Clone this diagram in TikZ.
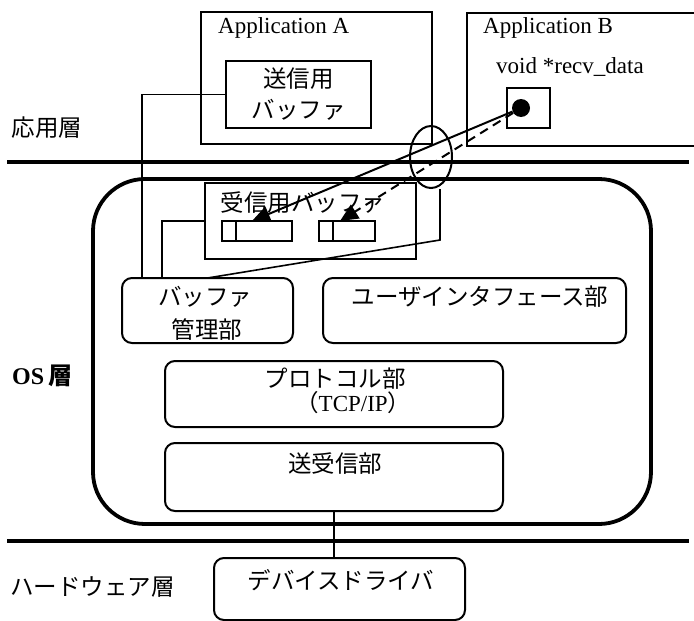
\documentclass[tikz,border=0pt]{standalone}
\usepackage{fontspec}
\setmainfont{Liberation Serif}
\newfontfamily\jp{Noto Sans CJK JP}
\usetikzlibrary{arrows.meta,calc,shapes.geometric}
\begin{document}
\begin{tikzpicture}[x=1pt,y=-1pt,
  box/.style={draw, line width=2pt, inner sep=0pt, outer sep=0pt},
  rbox/.style={box, rounded corners=10pt},
  jt/.style={font=\jp\fontsize{23.5}{26}\selectfont, inner sep=0pt},
  lt/.style={font=\fontsize{23}{26}\selectfont, inner sep=0pt},
  layer/.style={line width=4.5pt},
  conn/.style={line width=1.6pt},
  arr/.style={line width=2pt, -{Triangle[length=18pt,width=16pt]}},
]
\useasboundingbox (0,0) rectangle (694,621);
\clip (0,0) rectangle (694,621);

% layer separators
\coordinate (l1a) at (7,162); \coordinate (l1b) at (689,162);
\coordinate (l2a) at (7,541); \coordinate (l2b) at (689,541);
\draw[layer] (l1a) -- (l1b);
\draw[layer] (l2a) -- (l2b);

% layer labels
\node[jt] (lapp) at (47,128) {応用層};
\node[anchor=west, inner sep=0pt] (los) at (12,376)
  {\fontsize{24}{26}\selectfont\bfseries OS\,\jp 層};
\node[jt, anchor=west] (lhw) at (10,587) {ハードウェア層};

% Application A
\node[box, minimum width=231pt, minimum height=132pt, anchor=north west] (appA) at (201,12) {};
\node[lt, anchor=base west] (appAt) at (218,33) {Application A};
\node[box, minimum width=145pt, minimum height=67pt] (sendbuf) at (298.5,94.5) {};
\node[jt] (sb1) at (298.5,79) {送信用};
\node[jt] (sb2) at (298.5,110) {バッファ};

% Application B
\node[box, minimum width=260pt, minimum height=133pt, anchor=north west] (appB) at (467,13) {};
\node[lt, anchor=base west] (appBt) at (483,34) {Application B};
\node[lt, anchor=base west] (recv) at (496,73) {void *recv\_data};
\node[box, minimum width=43pt, minimum height=40pt] (dotbox) at (528.5,108) {};
\node[circle, fill, minimum size=18pt, inner sep=0pt] (dot) at (521,108) {};

% OS
\node[box, line width=3.8pt, rounded corners=52pt, minimum width=558pt, minimum height=345pt, anchor=north west] (os) at (93,179) {};
\node[box, minimum width=211pt, minimum height=76pt] (recvbuf) at (310.5,221) {};
\node[jt] (rbt) at (303,203) {受信用バッファ};
\node[box, line width=1.6pt, minimum width=70pt, minimum height=20pt] (bufA) at (257,231) {};
\node[box, line width=1.6pt, minimum width=56pt, minimum height=20pt] (bufB) at (347,231) {};
\draw[line width=1.6pt] ($(bufA.north west)+(14,0)$) -- ($(bufA.south west)+(14,0)$);
\draw[line width=1.6pt] ($(bufB.north west)+(14,0)$) -- ($(bufB.south west)+(14,0)$);

\node[rbox, minimum width=171pt, minimum height=65pt] (bufmgr) at (207.5,310.5) {};
\node[jt] (bm1) at (205,297) {バッファ};
\node[jt] (bm2) at (207,330) {管理部};
\node[rbox, minimum width=303pt, minimum height=65pt] (ui) at (474.5,310.5) {};
\node[jt] (uit) at (480,297) {ユーザインタフェース部};
\node[rbox, minimum width=338pt, minimum height=66pt] (proto) at (334,394) {};
\node[jt] (pr1) at (335,379) {プロトコル部};
\node[inner sep=0pt] (pr2) at (353,403) {\jp\fontsize{23.5}{26}\selectfont （\rmfamily\fontsize{23}{26}\selectfont TCP/IP\jp ）};
\node[rbox, minimum width=338pt, minimum height=68pt] (txrx) at (334,477) {};
\node[jt] (txt) at (335,464) {送受信部};

% hardware
\node[rbox, minimum width=251pt, minimum height=62pt, anchor=north west] (devdrv) at (214,558) {};
\node[jt] (ddt) at (341,580) {デバイスドライバ};

% connection ellipse
\node[draw, ellipse, line width=2pt, minimum width=42pt, minimum height=62pt, inner sep=0pt] (sock) at (431,157) {};

% connectors
\draw[conn] (sendbuf.west) -| ($(bufmgr.north west)+(20,0)$);
\draw[conn] (recvbuf.west) -| ($(bufmgr.north west)+(40,0)$);
\coordinate (sk) at (440,240);
\draw[conn] (bufmgr.north) -- (sk) -- (sk |- sock.south);
\draw[conn] (txrx.south) -- (txrx.south |- devdrv.north);

% arrows
\coordinate (tA) at ($(bufA.north west)+(30,0)$);
\coordinate (tB) at ($(bufB.north west)+(21,0)$);
\draw[arr] (dot) -- (tA);
\draw[arr, dash pattern=on 9pt off 6pt] (dot) -- (tB);
\end{tikzpicture}
\end{document}
